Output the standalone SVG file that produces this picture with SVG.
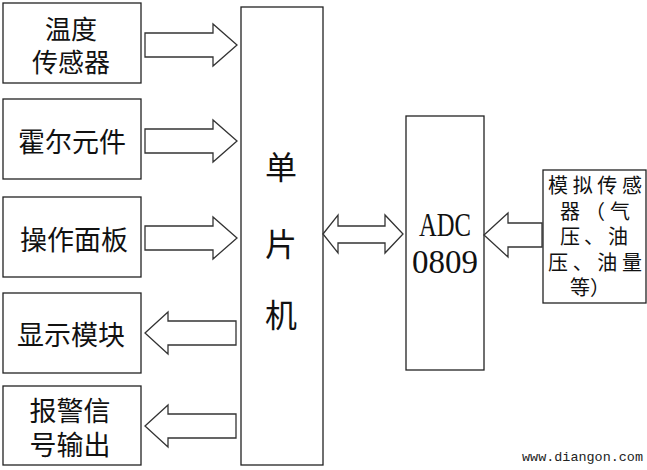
<svg xmlns="http://www.w3.org/2000/svg" width="647" height="470" viewBox="0 0 647 470">
<style>
.box{fill:#fff;stroke:#222;stroke-width:1.3}
.arr{fill:#fff;stroke:#333;stroke-width:1.3;stroke-linejoin:miter}
.cn{font-family:"Noto Sans CJK SC","Noto Sans",sans-serif;font-size:27px;fill:#111;text-anchor:middle;dominant-baseline:central}
.sn{font-family:"Noto Sans CJK SC","Noto Sans",sans-serif;font-size:20px;fill:#111;text-anchor:middle;dominant-baseline:central}
.en{font-family:"Liberation Serif",serif;font-size:34px;fill:#111;text-anchor:middle}
</style>
<rect width="647" height="470" fill="#fff"/>
<g id="temp"><rect class="box" x="3" y="3" width="138" height="80"/><text class="cn" style="font-size:26px"><tspan x="71" y="27">温度</tspan><tspan x="71" y="60">传感器</tspan></text></g>
<g id="hall"><rect class="box" x="3" y="99" width="138" height="80"/><text class="cn" x="72" y="140">霍尔元件</text></g>
<g id="panel"><rect class="box" x="3" y="197" width="138" height="80"/><text class="cn" x="74" y="238">操作面板</text></g>
<g id="display"><rect class="box" x="3" y="293" width="138" height="80"/><text class="cn" x="71" y="333">显示模块</text></g>
<g id="alarm"><rect class="box" x="3" y="386" width="138" height="79"/><text class="cn"><tspan x="70" y="409">报警信</tspan><tspan x="70" y="443">号输出</tspan></text></g>
<g id="mcu"><rect class="box" x="241" y="7" width="82" height="458"/><text class="cn" style="font-size:32px"><tspan x="281" y="165">单</tspan><tspan x="281" y="242">片</tspan><tspan x="281" y="313">机</tspan></text></g>
<g id="adc"><rect class="box" x="406" y="116" width="78" height="254"/><text class="en" x="445" y="236" textLength="52" lengthAdjust="spacingAndGlyphs">ADC</text><text class="en" x="445" y="273" textLength="66" lengthAdjust="spacingAndGlyphs">0809</text></g>
<g id="sensor"><rect class="box" x="543" y="170" width="103" height="133"/>
<text class="sn"><tspan x="595" y="184" textLength="94" lengthAdjust="spacing">模拟传感</tspan><tspan x="595" y="209.5" textLength="70" lengthAdjust="spacing">器（气</tspan><tspan x="594" y="235" textLength="68" lengthAdjust="spacing">压、油</tspan><tspan x="595" y="260.5" textLength="94" lengthAdjust="spacing">压、油量</tspan><tspan x="590" y="286">等）</tspan></text>
</g>
<g id="connectors">
<path class="arr" d="M145,33 H213 V24 L237,45 L213,66 V57 H145 Z"/>
<path class="arr" d="M145,129 H213 V120 L237,141 L213,162 V153 H145 Z"/>
<path class="arr" d="M145,226 H213 V217 L237,238 L213,259 V250 H145 Z"/>
<path class="arr" d="M236,321 H168 V312 L145,333 L168,354 V345 H236 Z"/>
<path class="arr" d="M236,414 H168 V405 L145,426 L168,447 V438 H236 Z"/>
<path class="arr" d="M323,234 L338,215 V226 H385 V215 L403,234 L385,253 V243 H338 V253 Z"/>
<path class="arr" d="M542,223 H508 V213 L484,235 L508,257 V247 H542 Z"/>
</g>
<text x="522" y="461" font-family="Liberation Mono,monospace" font-size="13" fill="#222" textLength="121" lengthAdjust="spacingAndGlyphs">www.diangon.com</text>
</svg>
